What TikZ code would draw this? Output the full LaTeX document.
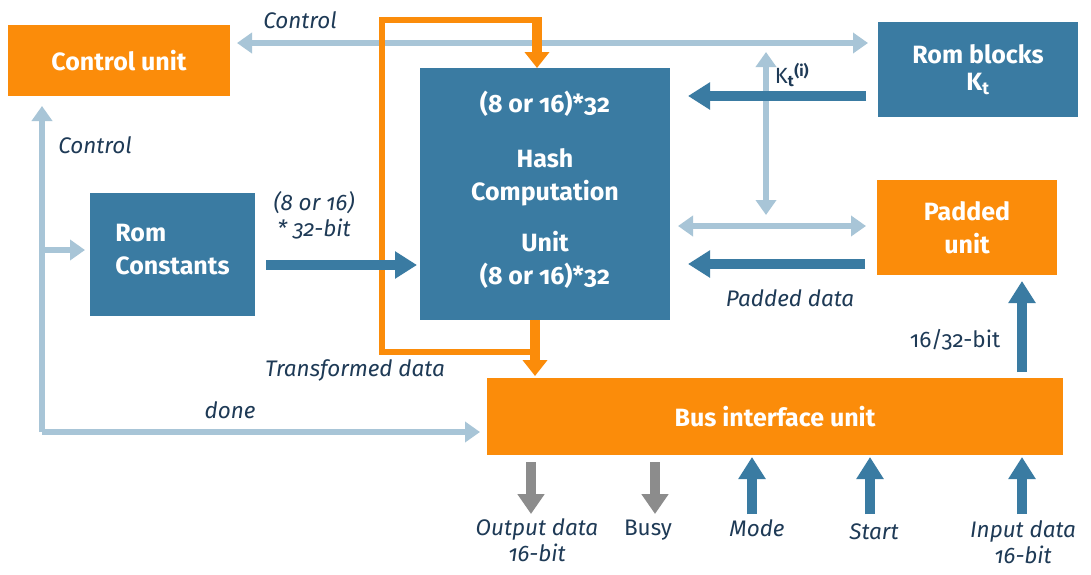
\documentclass[tikz,border=0pt]{standalone}
\usepackage{fontspec}
\setmainfont{Fira Sans}[Numbers=OldStyle]
\usetikzlibrary{arrows.meta,calc}
\definecolor{orng}{HTML}{FB8C0A}
\definecolor{bblue}{HTML}{3A7BA2}
\definecolor{lblue}{HTML}{A8C5D7}
\definecolor{gry}{HTML}{8C8C8C}
\definecolor{lbl}{HTML}{1E3A56}
\tikzset{
  box/.style={rectangle, inner sep=0pt, outer sep=0pt, text=white, align=center,
    font=\bfseries\fontsize{25}{33}\selectfont},
  obox/.style={box, fill=orng},
  bbox/.style={box, fill=bblue},
  lab/.style={text=lbl, font=\itshape\fontsize{22.5}{26}\selectfont, align=center, inner sep=0pt},
  ulab/.style={lab, font=\fontsize{22.5}{26}\selectfont},
  lbline/.style={draw=lblue, line width=6pt},
  lbarrow/.style={lbline, -{Triangle[width=20pt,length=15pt]}},
  lbdouble/.style={lbline, {Triangle[width=20pt,length=15pt]}-{Triangle[width=20pt,length=15pt]}},
  darrow/.style={draw=bblue, line width=10pt, -{Triangle[width=26pt,length=22pt]}},
  garrow/.style={draw=gry, line width=10pt, -{Triangle[width=26pt,length=20pt]}},
  oline/.style={draw=orng, line width=6pt},
  oarrow/.style={draw=orng, line width=10pt, -{Triangle[width=24pt,length=16pt]}},
}
\begin{document}
\begin{tikzpicture}[x=1pt,y=-1pt]
\useasboundingbox[fill=white] (0,0) rectangle (1091,574);

% boxes
\node[obox, minimum width=222pt, minimum height=71pt] (cu) at (119,60.5) {Control unit};
\node[bbox, minimum width=200pt, minimum height=95pt] (rb) at (978,69.5) {Rom blocks\\[-6pt]K\textsubscript{t}};
\node[bbox, minimum width=250pt, minimum height=252pt] (hash) at (545,194)
  {(8 or 16)*32\\[22pt]Hash\\Computation\\[18pt]Unit\\(8 or 16)*32\\[-20pt]};
\node[bbox, minimum width=165pt, minimum height=123pt, align=left] (rc) at (172.5,254.5) {Rom\\Constants\\[-22pt]};
\node[obox, minimum width=180pt, minimum height=95pt] (pu) at (967,227.5) {Padded\\unit};
\node[obox, minimum width=576pt, minimum height=77pt] (bus) at (775,416.5) {Bus interface unit};

% helper coordinates
\coordinate (vt) at (766,52);
\coordinate (vb) at (766,215);
\coordinate (lc) at (42,432);
\coordinate (lbr) at (42,250);
\coordinate (lpA) at (382,352);
\coordinate (lpB) at (382,20);
\coordinate (lpC) at (537,20);
\coordinate (o1) at (531,514);
\coordinate (o2) at (655,514);
\coordinate (i1) at (752,514);
\coordinate (i2) at (870,514);
\coordinate (i3) at (1022,514);

% light blue connectors
\draw[lbdouble] ([shift={(7,-17.5)}]cu.east) -- ([shift={(-10,-26.5)}]rb.west);
\draw[lbdouble] (vt) -- (vb);
\draw[lbdouble] ([shift={(8,32)}]hash.east) -- ([shift={(-11,-1.5)}]pu.west);
\draw[lbarrow] (lc) -- ([shift={(-77,10)}]cu.south);
\draw[lbarrow] (lbr) -- ([shift={(-5,-4.5)}]rc.west);
\draw[lbarrow] (lc) -- ([shift={(-7,15.5)}]bus.west);

% orange loop
\draw[oline, line join=miter] ([shift={(-10,32)}]hash.south) -- (lpA) -- (lpB) -- ([shift={(3,0)}]lpC);
\draw[oarrow] ([shift={(0,-3)}]lpC) -- ([shift={(-8,0)}]hash.north);
\draw[oarrow] ([shift={(-10,0)}]hash.south) -- ([shift={(-240,-2)}]bus.north);

% dark blue connectors
\draw[darrow] ([shift={(11,10.5)}]rc.east) -- ([shift={(-3,71)}]hash.west);
\draw[darrow] ([shift={(-12,26.5)}]rb.west) -- ([shift={(18,-98)}]hash.east);
\draw[darrow] ([shift={(-12,36.5)}]pu.west) -- ([shift={(18,70)}]hash.east);
\draw[darrow] ([shift={(247,-6)}]bus.north) -- ([shift={(55,6)}]pu.south);

% bottom arrows
\draw[garrow] ([shift={(-244,7)}]bus.south) -- (o1);
\draw[garrow] ([shift={(-120,7)}]bus.south) -- (o2);
\draw[darrow] (i1) -- ([shift={(-23,2)}]bus.south);
\draw[darrow] (i2) -- ([shift={(95,2)}]bus.south);
\draw[darrow] (i3) -- ([shift={(247,2)}]bus.south);

% labels
\node[lab] (lctl1) at (300,20) {Control};
\node[lab] (lctl2) at (95,145) {Control};
\node[lab] (l816) at (314,215) {(8 or 16)\\* 32-bit};
\node[lab] (ltd) at (355,370) {Transformed data};
\node[lab] (ldone) at (230,410) {done};
\node[lab, font=\fontsize{22}{26}\selectfont] (lkt) at (792,75) {K\textsubscript{\bfseries t}\textsuperscript{\bfseries (i)}};
\node[lab] (lpd) at (790,298) {Padded data};
\node[ulab] (l1632) at (955,340) {16/32-bit};
\node[lab] (lout) at (537,540) {Output data\\16-bit};
\node[ulab] (lbusy) at (648,530) {Busy};
\node[lab] (lmode) at (757,528) {Mode};
\node[lab] (lstart) at (874,532) {Start};
\node[lab] (lin) at (1023,542) {Input data\\16-bit};
\end{tikzpicture}
\end{document}
